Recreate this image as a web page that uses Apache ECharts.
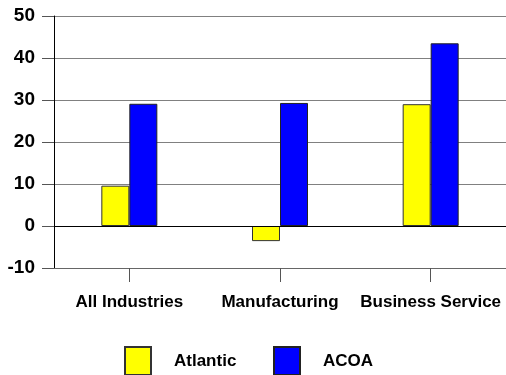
<!DOCTYPE html>
<html><head><meta charset="utf-8">
<script src="https://cdn.jsdelivr.net/npm/echarts@6/dist/echarts.min.js"></script>
<style>html,body{margin:0;padding:0;background:#fff}#c{width:506px;height:375px}</style>
</head><body><div id="c"></div>
<script>
const categories = ['All Industries', 'Manufacturing', 'Business Service'];
const atlantic = [9.6, -3.6, 29.0];
const acoa = [29.1, 29.3, 43.5];
const yTicks = { min: -10, max: 50, interval: 10 };
const FONT = '"Liberation Sans", Arial, sans-serif';
const chart = echarts.init(document.getElementById('c'));
chart.setOption({
  animation: false,
  grid: { left: 54, width: 456, top: 16, height: 252, containLabel: false },
  legend: [
    { data: ['Atlantic'], left: 119, top: 341, itemWidth: 26, itemHeight: 28, icon: 'rect',
      textStyle: { fontFamily: FONT, fontWeight: 'bold', fontSize: 17, color: '#000', padding: [0, 0, 0, 18] } },
    { data: ['ACOA'], left: 268, top: 341, itemWidth: 26, itemHeight: 28, icon: 'rect',
      textStyle: { fontFamily: FONT, fontWeight: 'bold', fontSize: 17, color: '#000', padding: [0, 0, 0, 18] } }
  ],
  xAxis: {
    type: 'category', data: categories, position: 'bottom',
    axisLine: { show: true, onZero: false, lineStyle: { color: '#666', width: 1 } },
    axisTick: { show: true, alignWithLabel: true, length: 14, lineStyle: { color: '#555' } },
    axisLabel: { interval: 0, margin: 26, fontFamily: FONT, fontWeight: 'bold', fontSize: 17, color: '#000' },
    splitLine: { show: false }
  },
  yAxis: {
    type: 'value', min: yTicks.min, max: yTicks.max, interval: yTicks.interval,
    axisLine: { show: true, lineStyle: { color: '#000', width: 1 } },
    axisTick: { show: true, length: 12, lineStyle: { color: '#555' } },
    axisLabel: { margin: 19, fontFamily: FONT, fontWeight: 'bold', fontSize: 19, color: '#000' },
    splitLine: { show: true, lineStyle: { color: '#808080', width: 1 } }
  },
  series: [
    { name: 'Atlantic', type: 'bar', data: atlantic, barWidth: 28, barGap: 0,
      itemStyle: { color: '#ffff00', borderColor: '#333', borderWidth: 1 },
      markLine: { silent: true, symbol: 'none', label: { show: false },
        lineStyle: { color: '#000', type: 'solid', width: 1 }, data: [{ yAxis: 0 }] } },
    { name: 'ACOA', type: 'bar', data: acoa, barWidth: 28, barGap: 0,
      itemStyle: { color: '#0000ff', borderColor: '#222', borderWidth: 1 } }
  ]
});
</script></body></html>
